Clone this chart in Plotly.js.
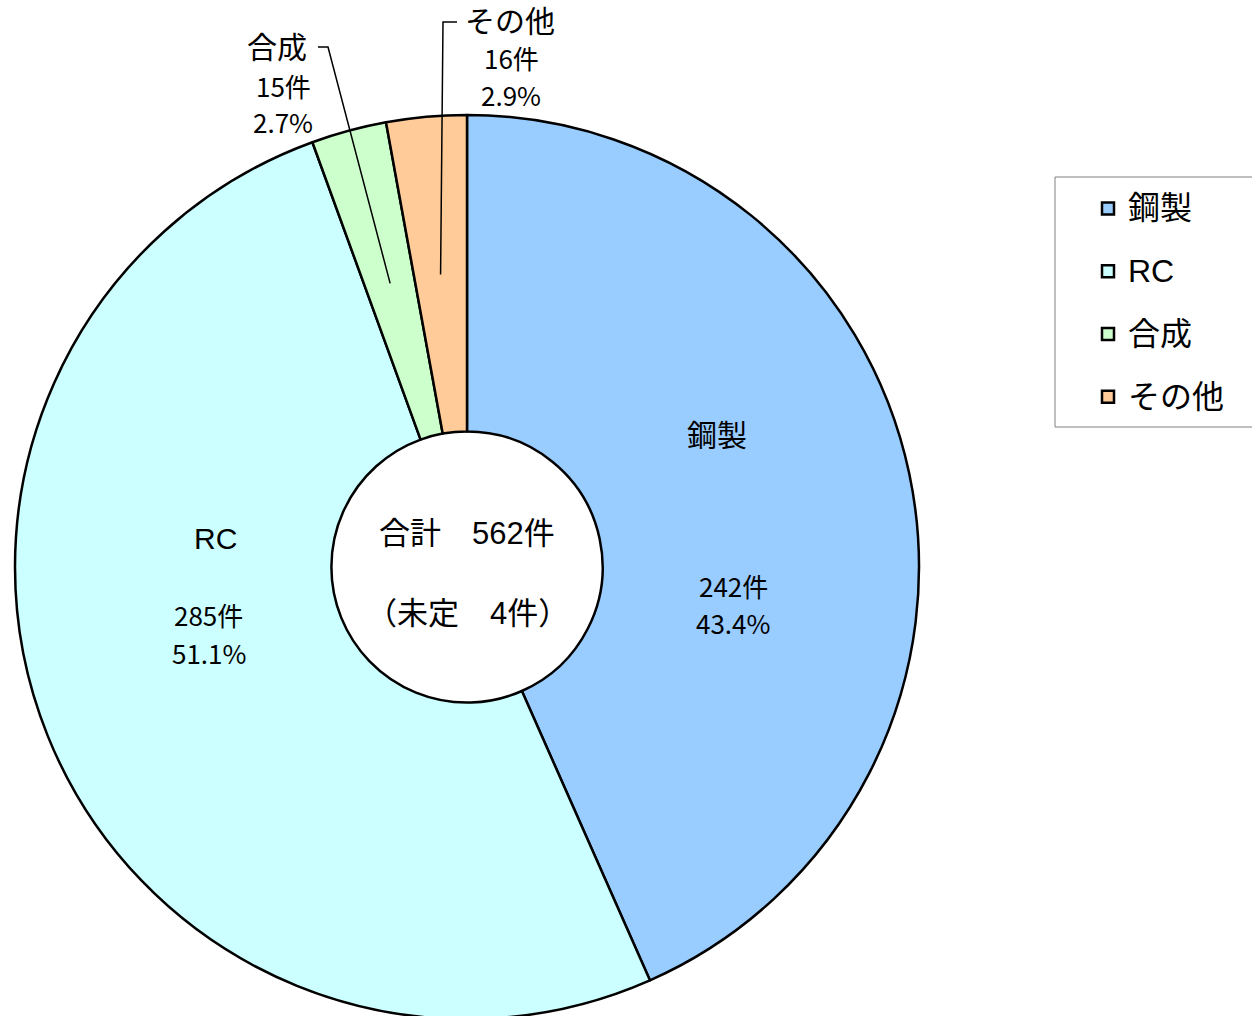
<!DOCTYPE html>
<html>
<head>
<meta charset="utf-8">
<script src="https://cdn.plot.ly/plotly-3.0.1.min.js"></script>
<style>
html, body { margin: 0; padding: 0; overflow: hidden; background: #fff; }
#plot { width: 1252px; height: 1019px; }
</style>
</head>
<body>
<div id="plot"></div>
<script>
// === DATOS ===
var categories = ['鋼製', 'RC', '合成', 'その他'];
var counts = [242, 285, 15, 16];
var sliceColors = ['#99CCFF', '#CCFFFF', '#CCFFCC', '#FFCC99'];
var totalCount = 562;
var undecidedCount = 4;

// === GEOMETRIA (px) ===
var W = 1252, H = 1019, ML = 15, MT = 115;
var R = 452, HOLE = 0.30;
var CX = ML + R, CY = MT + R;
var FONT = 'Noto Sans CJK JP, Noto Sans, sans-serif';
var FONT_LATIN = 'Liberation Sans, Noto Sans CJK JP, sans-serif';

// posiciones de las etiquetas (px)
var labelPos = [
    { name: [717, 435], count: [733, 585], pct: [733, 622] },
    { name: [215, 538], count: [208, 614], pct: [209, 652] },
    { name: [277, 47], count: [283, 85], pct: [283, 122], elbow: [[318, 47], [328, 47]] },
    { name: [510, 22], count: [511, 57], pct: [511, 94], elbow: [[457, 22], [443, 22]] }
];

function px(x) { return (x - ML) / (W - ML); }
function py(y) { return (H - y) / (H - MT); }

var sum = counts.reduce((a, b) => a + b, 0);

function textAnn(txt, pos, size, family) {
    return {
        xref: 'paper', yref: 'paper',
        x: px(pos[0]), y: py(pos[1]),
        xanchor: 'center', yanchor: 'middle',
        text: txt, showarrow: false,
        font: { family: family || FONT, size: size, color: '#000' }
    };
}

var annotations = [];
var shapes = [];
var acc = 0;
counts.forEach((v, i) => {
    var p = labelPos[i];
    var pct = (v / sum * 100).toFixed(1) + '%';
    annotations.push(textAnn(categories[i], p.name, 30, FONT_LATIN));
    annotations.push(textAnn(v + '件', p.count, 26));
    annotations.push(textAnn(pct, p.pct, 26));

    // linea guia hacia el centro del sector
    var mid = (acc + v / 2) / sum * 2 * Math.PI;
    acc += v;
    if (p.elbow) {
        var rt = R * (1 + HOLE) / 2;
        var tx = CX + rt * Math.sin(mid);
        var ty = CY - rt * Math.cos(mid);
        var a = p.elbow[0], b = p.elbow[1];
        shapes.push({
            type: 'path', xref: 'paper', yref: 'paper',
            path: 'M' + px(a[0]) + ',' + py(a[1]) + ' L' + px(b[0]) + ',' + py(b[1]) + ' L' + px(tx) + ',' + py(ty),
            line: { color: '#000', width: 1.5 }
        });
    }
});

// texto del centro
annotations.push(textAnn('合計　' + totalCount + '件', [467, 533], 31, FONT_LATIN));
annotations.push(textAnn('（未定　' + undecidedCount + '件）', [467, 613], 31, FONT_LATIN));

// marco de la leyenda
shapes.push({
    type: 'rect', xref: 'paper', yref: 'paper',
    x0: px(1055), x1: px(1262), y0: py(427), y1: py(177),
    line: { color: '#808080', width: 1 }, fillcolor: 'rgba(0,0,0,0)'
});

var trace = {
    type: 'pie',
    labels: categories.map(c => '<span style="font-size:32px;baseline-shift:7px">' + c + '</span>'),
    values: counts,
    hole: HOLE,
    sort: false,
    direction: 'clockwise',
    rotation: 0,
    textinfo: 'none',
    hoverinfo: 'label+value+percent',
    marker: { colors: sliceColors, line: { color: '#000', width: 2.5 } },
    domain: { x: [0, 2 * R / (W - ML)], y: [0, 1] }
};

var layout = {
    width: W, height: H,
    margin: { l: ML, r: 0, t: MT, b: 0, pad: 0 },
    paper_bgcolor: '#fff',
    font: { family: FONT, color: '#000' },
    showlegend: true,
    legend: {
        x: px(1088), y: py(172), xanchor: 'left', yanchor: 'top',
        borderwidth: 0, bgcolor: 'rgba(0,0,0,0)',
        font: { family: FONT_LATIN, size: 46, color: '#000' }
    },
    annotations: annotations,
    shapes: shapes
};

Plotly.newPlot('plot', [trace], layout, { displayModeBar: false, staticPlot: true });
</script>
</body>
</html>
